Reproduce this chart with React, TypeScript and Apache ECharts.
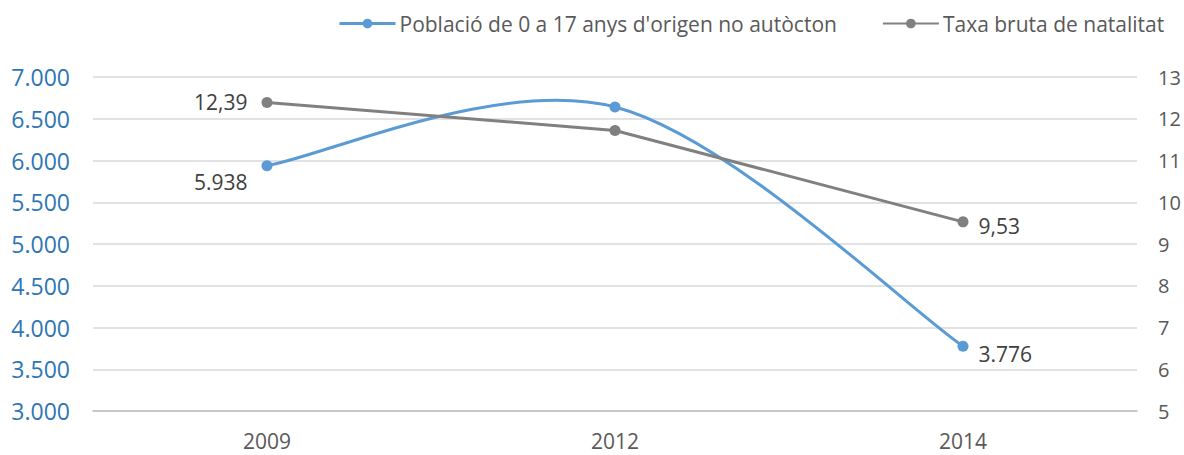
import React, { useEffect, useRef } from "react";
import * as echarts from "echarts";

const categories = ["2009", "2012", "2014"];
const poblacio = [5938, 6640, 3776];
const natalitat = [12.39, 11.72, 9.53];
const seriesNames = ["Població de 0 a 17 anys d'origen no autòcton", "Taxa bruta de natalitat"];

const FONT = "'Open Sans', 'Noto Sans', sans-serif";
const BLUE = "#5B9BD5";
const GRAY = "#808080";

function fmtThousands(v: number): string {
  return String(Math.round(v)).replace(/\B(?=(\d{3})+(?!\d))/g, ".");
}
function fmtComma(v: number): string {
  return v.toFixed(2).replace(".", ",");
}

const labelBase = { color: "#404040", fontSize: 21, fontFamily: FONT };

export default function App() {
  const ref = useRef<HTMLDivElement>(null);
  useEffect(() => {
    if (!ref.current) return;
    const chart = echarts.init(ref.current, undefined, { renderer: "svg" });
    const blueLabels = [
      { show: true, position: "left", distance: 14, offset: [0, 16], formatter: (p: any) => fmtThousands(p.value) },
      { show: false },
      { show: true, position: "right", distance: 10, offset: [0, 8], formatter: (p: any) => fmtThousands(p.value) },
    ];
    const grayLabels = [
      { show: true, position: "left", distance: 14, offset: [0, 0], formatter: (p: any) => fmtComma(p.value) },
      { show: false },
      { show: true, position: "right", distance: 10, offset: [0, 4], formatter: (p: any) => fmtComma(p.value) },
    ];
    // segments of the smoothed (Excel-like Catmull-Rom) curve
    const segments = poblacio.slice(0, -1).map((_, i) => [i, i + 1]);
    chart.setOption({
      animation: false,
      textStyle: { fontFamily: FONT },
      legend: {
        top: 8,
        left: 333,
        width: 900,
        itemGap: 45,
        itemWidth: 56,
        itemHeight: 12,
        textStyle: { color: "#595959", fontSize: 21, fontFamily: FONT, padding: [0, 0, 0, -1] },
        data: [
          { name: seriesNames[0], lineStyle: { color: BLUE, width: 3, opacity: 1 } },
          { name: seriesNames[1] },
        ],
      },
      grid: { left: 93, right: 47, top: 77, bottom: 44 },
      xAxis: {
        type: "category",
        data: categories,
        axisTick: { show: false },
        axisLine: { lineStyle: { color: "#BFBFBF", width: 1.5 } },
        axisLabel: { color: "#595959", fontSize: 21, margin: 19, fontFamily: FONT },
      },
      yAxis: [
        {
          type: "value",
          min: 3000,
          max: 7000,
          interval: 500,
          axisLine: { show: false },
          axisTick: { show: false },
          splitLine: { lineStyle: { color: "#D9D9D9", width: 1.5 } },
          axisLabel: {
            color: "#2E75B6",
            fontSize: 23,
            margin: 23,
            fontFamily: FONT,
            formatter: (v: number) => fmtThousands(v),
          },
        },
        {
          type: "value",
          min: 5,
          max: 13,
          interval: 1,
          axisLine: { show: false },
          axisTick: { show: false },
          splitLine: { show: false },
          axisLabel: { color: "#595959", fontSize: 20, margin: 21, fontFamily: FONT },
        },
      ],
      series: [
        {
          name: seriesNames[0] + "__curve",
          type: "custom",
          yAxisIndex: 0,
          data: segments,
          silent: true,
          z: 2,
          renderItem: (params: any, api: any) => {
            const i = segments[params.dataIndex][0];
            const n = poblacio.length;
            const pt = (k: number) => {
              const kk = Math.max(0, Math.min(n - 1, k));
              return api.coord([kk, poblacio[kk]]);
            };
            const p0 = pt(i - 1);
            const p1 = pt(i);
            const p2 = pt(i + 1);
            const p3 = pt(i + 2);
            const c1 = [p1[0] + (p2[0] - p0[0]) / 6, p1[1] + (p2[1] - p0[1]) / 6];
            const c2 = [p2[0] - (p3[0] - p1[0]) / 6, p2[1] - (p3[1] - p1[1]) / 6];
            return {
              type: "bezierCurve",
              shape: { x1: p1[0], y1: p1[1], cpx1: c1[0], cpy1: c1[1], cpx2: c2[0], cpy2: c2[1], x2: p2[0], y2: p2[1] },
              style: { stroke: BLUE, lineWidth: 3, fill: null },
            };
          },
        },
        {
          name: seriesNames[0],
          type: "line",
          yAxisIndex: 0,
          data: poblacio.map((v, i) => ({ value: v, label: { ...labelBase, ...blueLabels[i] } })),
          symbol: "circle",
          symbolSize: 11,
          lineStyle: { color: BLUE, width: 3, opacity: 0 },
          itemStyle: { color: BLUE },
          z: 4,
        },
        {
          name: seriesNames[1],
          type: "line",
          yAxisIndex: 1,
          data: natalitat.map((v, i) => ({ value: v, label: { ...labelBase, ...grayLabels[i] } })),
          symbol: "circle",
          symbolSize: 11,
          lineStyle: { color: GRAY, width: 3 },
          itemStyle: { color: GRAY },
          z: 3,
        },
      ],
    });
    return () => chart.dispose();
  }, []);
  return (
    <div
      ref={ref}
      style={{ position: "fixed", left: 0, top: 0, width: 1184, height: 455, background: "#ffffff" }}
    />
  );
}
